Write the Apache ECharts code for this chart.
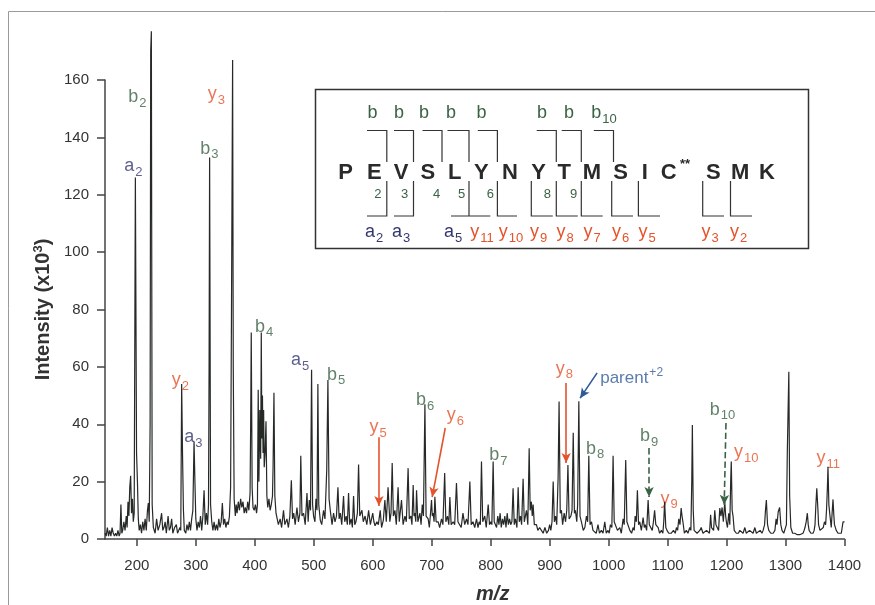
<!DOCTYPE html>
<html>
<head>
<meta charset="utf-8">
<script src="https://cdn.jsdelivr.net/npm/echarts@6/dist/echarts.min.js"></script>
<style>
html,body{margin:0;padding:0;background:#fff;}
#chart{width:875px;height:605px;}
</style>
</head>
<body>
<div id="chart"></div>
<script>
// m/z ticks and intensity ticks (x10^3)
const mzTicks = [200, 300, 400, 500, 600, 700, 800, 900, 1000, 1100, 1200, 1300, 1400];
const intensityTicks = [0, 20, 40, 60, 80, 100, 120, 140, 160];

// MS/MS profile: [m/z, intensity x10^3]
const spectrum = [
  [146,2],[148,1],[150,4],[152,1],[154,3],[156,1],[158,4],[160,2],[162,1],[164,2],[166,1],[168,3],[170,1],[171.5,2],[173,12],[174.5,2],
  [176,3],[178,6],[180,3],[182,8],[183.5,4],[185,13],[186.5,8],[188,18],[189.5,22],[191,9],[192.5,14],[194,6],[195.5,9],[197.5,126],
  [199.5,30],[201,20],[202.5,7],[204,3],[206,5],[208,2],[210,6],[212,3],[214,7],[216,3],[218,10],[219.5,12.5],[221,6],[222.5,40],
  [223.5,170],[224.6,177],[226,12],[228,4],[231,2],[233.5,7],[236,3],[239,5],[242,9],[244,3],[246,4],[248,6],[250,2],[253,8],[255,3],
  [257,4],[259,7],[261,2],[264,4],[267,5],[269,2],[271,3],[273,4],[274.5,3],[276,54],[277.5,29],[279,10],[280.5,3],[283,2],[285,5],
  [287,3],[289,6],[291,3],[293,7],[295,10],[297,34],[298.5,20],[300,7],[302,3],[304,6],[306,4],[308,8],[310,3],[312,8],[314,17],[316,5],
  [318,9],[320,5],[321.5,12],[322.5,60],[323.4,133],[325,12],[327,6],[329,3],[331,6],[333,3],[335,5],[337,3],[339,7],[341,4],[343,6],
  [345,12.5],[347,5],[349,7],[351,4],[353,6],[355,5],[357,8],[359,18],[360.5,80],[362.4,167],[363.5,60],[365,14],[367,8],[368.5,12],
  [370,9],[372,13],[374,10],[376,14],[378,11],[380,13],[382,9],[384,11],[386,9],[388,13],[390,10],[392,16],[393,40],[394,72],[395.5,18],
  [397,11],[399,10],[401,12],[403,9],[404.5,12],[405.8,52],[407,20],[408.5,45],[410,28],[411,72],[412,35],[413,50],[414,30],[415,45],
  [416,25],[417.5,30],[419,41],[420.5,15],[422,11],[424,14],[426,10],[428,12],[430,15],[431,25],[432.5,51],[434,15],[436,9],[437.6,9],
  [440,5],[443,7],[445.5,4],[448.7,10],[451,5],[454.5,7],[457,4],[459.5,8],[462,20.5],[464,7],[466,9],[468.5,5],[471.5,11],[474,6],
  [476.5,9],[478,29],[480,8],[482.7,9],[485.5,5],[488.5,16],[490.5,6],[492.4,13.6],[494.5,10],[496.3,59],[498,12],[499.7,8],[502,6],
  [503.7,14],[505.5,10],[507,54],[508.5,12],[511,6.6],[513.5,5],[516.6,10],[519,7],[522,24],[524,55.4],[526,14],[528,10],[531,5],
  [533.6,9],[536,6],[538.5,8],[541,18],[543,7],[545,9],[547.5,5],[550.5,15],[552.5,6],[555,8],[557,5],[559,16],[561,5],[563.5,7],
  [565.5,4],[567.5,15],[569.5,5],[571.5,6],[574,9],[576,26],[578,8],[581.7,10],[584,6],[587,8],[590,5],[593,10],[596,5],[600,9],[602,6],
  [604,4.6],[607,6],[609.5,5],[612.7,10],[615,4],[618,6.6],[620.6,13.6],[623,6],[626,18],[629,6],[631,9],[633,26.5],[635,8],[637.6,10],
  [640,5],[643,18],[645,6],[648.8,13.6],[651.5,5],[654.6,8],[657,6],[660,24.7],[662,7],[664.7,8],[666.5,5],[668.6,18.8],[670,8],
  [671.5,9],[673,6],[674.3,17],[676.5,6],[680,9],[682,5],[684,12],[686,8],[688.5,47],[690.5,8],[694,7],[696,4],[698,9],[699.7,13.6],
  [701,8],[702.5,9],[704,6],[705.4,14.7],[707.5,6],[711,6],[713.5,4],[716.6,7],[719,5],[722,23],[724,6],[726.8,8],[729,5],[730.8,14.6],
  [733,5],[736.4,6],[739,5],[742,19.5],[744.5,6],[747.8,6],[750,4],[753,9],[756,5],[759,7],[761.5,5],[764.7,20],[767,5],[770,6],[773,4],
  [776,7],[778.5,4],[780.5,6],[782.5,5],[784.4,27],[786.5,6],[790,8],[792.5,4],[795.8,12],[798,5],[800.3,6],[802,5],[804.2,27],[806,6],
  [808,6],[810,4],[812,8],[814,5],[816,9],[818,4],[820,7],[822,5],[824,8],[826,4],[828,9],[830,5],[832,7],[834,5],[836,6],[838,17.7],
  [840,5],[842,7],[844.5,4],[846.6,18],[848.5,6],[850.5,8],[852.5,5],[855,21],[857,6],[860.7,10],[863,5],[865.3,31.6],[867,10],[869,13],
  [870.5,8],[872,12],[874,5],[877.6,5],[880,3],[883,4],[886,3],[889,2],[892,4],[895,2],[898,3],[900,5],[902,3],[904,6],[906,20],[908,6],
  [910,8],[912,5],[914.4,21.7],[916,47.9],[918,9],[920,10],[922,5],[924.6,9],[927,6],[929,10],[931,25.8],[933,7],[936,8],[938,10],
  [940,37],[942,9],[943.7,10],[946,6],[947.5,12],[949.5,48],[951.5,8],[953.9,6],[957,3],[959.7,4],[962.4,8],[964.5,6],[966.4,29],
  [968.5,5],[971,6],[973.5,3],[976.6,3],[979,2],[982,5],[984.5,2],[987.7,3],[990.5,2],[993.5,6],[996,2],[999,3],[1001,2],[1003,5],
  [1005.5,4],[1007.6,29],[1009.5,6],[1012,6],[1015,3],[1019,4],[1021.5,2],[1024.6,7],[1026.5,5],[1029,27.5],[1031,6],[1033,6],[1036,3],
  [1039,2],[1041.5,4],[1043.5,3],[1045,8],[1047,6],[1048.8,17],[1050.8,5],[1052.8,6],[1055.5,3],[1058.5,7.5],[1060.5,4],[1062,5],
  [1064.5,3],[1067,13.6],[1069,5],[1071.5,5],[1074,3],[1076,6],[1078,10],[1080,5],[1084,4],[1086.5,2],[1089.5,3],[1092,2],[1093.5,6],
  [1095,13],[1097,4],[1099,3],[1102,2],[1106,2],[1110,3],[1113,2],[1115,4],[1117,3],[1119,7],[1121,5],[1123,10.8],[1124.5,8],[1126,6],
  [1128.5,2],[1131.8,3],[1134.5,2],[1137.6,4],[1139.5,3],[1141,20],[1142,39.7],[1143.5,10],[1145,3],[1146,3],[1150,2],[1154.6,3],
  [1157,4],[1160,2],[1163,2],[1166,3],[1168.6,3],[1171,2],[1173,8.4],[1174.5,4],[1176,4],[1178,3],[1180,10],[1182,5],[1184,5],[1186.5,3],
  [1188.5,10.8],[1190.5,8],[1192.4,11],[1194.5,6],[1197,13],[1198.5,8],[1199.7,6],[1201.5,4],[1203.7,9],[1205.5,5],[1207,20],[1208,27],
  [1209.5,10],[1211,8],[1213,3],[1216.6,2],[1220,2],[1222.5,3],[1225,3],[1228,2],[1231,4],[1233.5,2],[1236.7,2],[1239,3],[1242,3],
  [1245,2],[1248,4],[1250.5,2],[1253.7,2],[1257,3],[1260,2],[1262,3],[1264.5,5],[1266,10],[1267.5,13.6],[1269.5,5],[1271.6,3],[1275,2],
  [1279,2],[1282,3],[1284,7],[1285.5,5],[1287.6,9.5],[1290,11],[1292,5],[1294,3],[1297,2],[1300,2],[1301.5,5],[1303,30],[1305.6,58.3],
  [1307,15],[1309,4],[1312,2],[1315.6,2],[1320,1.5],[1324,1.5],[1327,2],[1329.7,2],[1331.5,3],[1333,4],[1335,6],[1337,9],[1338.5,5],
  [1340,3],[1343,2],[1346.6,2],[1348.5,3],[1350,5],[1351.5,12],[1353,17.7],[1355,10],[1356,5],[1358.5,3],[1361.5,3],[1364,4],[1366,6],
  [1368,5],[1369.5,10],[1371,18],[1372,25.2],[1373.5,12],[1375.4,8],[1377.5,4],[1379,9],[1380.5,13.8],[1382,8],[1383,5],[1386,3],
  [1389,2],[1392,2],[1394.6,2],[1396.5,2],[1397.5,6],[1400,6]
];

// fragment ion labels: [ion series, number]
const ionLabels = [
  ['a','2'],['b','2'],['b','3'],['y','3'],['y','2'],['a','3'],['b','4'],['a','5'],['b','5'],['y','5'],['b','6'],
  ['y','6'],['b','7'],['y','8'],['b','8'],['b','9'],['y','9'],['b','10'],['y','10'],['y','11']
];
// peptide sequence shown in the inset
const sequence = ['P','E','V','S','L','Y','N','Y','T','M','S','I','C','S','M','K'];

// ---- layout (label anchors in data units, inset in pixels) ----
const ionLabelAt = [
  [194,130],[201,154],[323,136],[335,155],[274,55.4],[296,35.5],[416,74],[477,62.4],[538,57.2],[609,39],[689,48.4],
  [740,43.2],[813,29.3],[925,59.3],[977,31.4],[1068.6,35.9],[1102.5,14],[1193,45],[1233.5,30.3],[1372.5,28.2]
];
const parentAt = [1039, 56];
const colors = {a:'#34376f', b:'#3a6244', y:'#e4532b', parent:'#2f5a98', line:'#262a27', axis:'#444'};

const arrows = [
  [[610.5,35.5],[610.5,11.5],colors.y,'solid'],
  [[723,38.7],[700.8,14.6],colors.y,'solid'],
  [[928,54.4],[928,26.5],colors.y,'solid'],
  [[980.5,57.9],[951.7,49.1],colors.parent,'solid'],
  [[1068.6,31.7],[1068.6,14.6],colors.b,'dashed'],
  [[1199,40.4],[1196,11.9],colors.b,'dashed']
];

const FONT = 'Liberation Sans, Arial, sans-serif';
const subRich = {
  m: {fontSize: 18},
  s: {fontSize: 13, padding: [12, 0, 0, 1]},
  p: {fontSize: 17},
  sup: {fontSize: 12, padding: [0, 0, 11, 1]}
};

let labelData = ionLabels.map(function (ion, i) {
  return {
    value: ionLabelAt[i],
    label: {formatter: '{m|' + ion[0] + '}{s|' + ion[1] + '}', color: colors[ion[0]]}
  };
});
labelData.push({value: parentAt, label: {formatter: '{p|parent}{sup|+2}', color: colors.parent}});

// inset: peptide with fragmentation brackets
const seqX = [345.7,374.3,401,427.8,454.6,481.4,510,538.5,564.2,592,620.6,644.9,668.8,713.4,740.2,767];
const topBrackets = [[367,386.8],[394,413.5],[422.5,442],[447.5,469],[477.8,497.4],[536.7,556.3],[561.7,581.3],[593.8,613.5]];
const topB = [[372.5,''],[399,''],[424,''],[451,''],[481.4,''],[542,''],[569,''],[604,'10']];
const bottomBrackets = [[386.8,367,386.8],[413.5,394,413.5],[469,451,490.3],[497.4,497.4,517],[531.3,531.3,552.8],[556.3,556.3,577.8],
  [581.3,581.3,602.7],[611.7,611.7,633],[638.4,638.4,660],[702.7,702.7,724],[730.5,730.5,752]];
const bNums = [[377.8,'2'],[404.6,'3'],[436.7,'4'],[461.7,'5'],[490.3,'6'],[547.4,'8'],[573.5,'9']];
const bottomLab = [[374,'a','2'],[401,'a','3'],[453,'a','5'],[482,'y','11'],[511,'y','10'],[538.5,'y','9'],[565,'y','8'],
  [592,'y','7'],[620.6,'y','6'],[647,'y','5'],[710,'y','3'],[738.5,'y','2']];

let graphics = [
  {type:'rect', shape:{x:8.5, y:11.5, width:900, height:700}, style:{fill:'none', stroke:'#9a9a9a', lineWidth:1}, z:-1},
  {type:'rect', shape:{x:315.5, y:89.5, width:493, height:159}, style:{fill:'#fff', stroke:'#333', lineWidth:1.5}}
];
sequence.forEach(function (s, i) {
  graphics.push({type:'text', x:seqX[i], y:173, style:{text: s, font:'bold 22px ' + FONT, fill:'#2a2a2a', align:'center', verticalAlign:'middle'}});
});
graphics.push({type:'text', x:680, y:164, style:{text:'**', font:'bold 13px ' + FONT, fill:'#2a2a2a', align:'left', verticalAlign:'middle'}});
topBrackets.forEach(function (b) {
  graphics.push({type:'polyline', shape:{points:[[b[0],130.5],[b[1],130.5],[b[1],162]]}, style:{fill:'none', stroke:'#333', lineWidth:1.2}});
});
topB.forEach(function (t) {
  graphics.push({type:'text', x:t[0], y:113, style:{text: t[1] ? '{m|b}{s|' + t[1] + '}' : '{m|b}', rich: subRich, font:'18px ' + FONT, fill:colors.b, align:'center', verticalAlign:'middle'}});
});
bottomBrackets.forEach(function (b) {
  graphics.push({type:'polyline', shape:{points:[[b[0],181],[b[0],216],[b[1],216],[b[2],216]]}, style:{fill:'none', stroke:'#333', lineWidth:1.2}});
});
bNums.forEach(function (t) {
  graphics.push({type:'text', x:t[0], y:194, style:{text: t[1], font:'13px ' + FONT, fill:colors.b, align:'center', verticalAlign:'middle'}});
});
bottomLab.forEach(function (t) {
  graphics.push({type:'text', x:t[0], y:232, style:{text: '{m|' + t[1] + '}{s|' + t[2] + '}', rich: subRich, font:'18px ' + FONT, fill:colors[t[1]], align:'center', verticalAlign:'middle'}});
});

const chart = echarts.init(document.getElementById('chart'), null, {renderer:'canvas'});
const option = {
  animation: false,
  backgroundColor: '#fff',
  textStyle: {fontFamily: FONT},
  grid: {left:105, right:30.5, top:80, bottom:66, containLabel:false, outerBoundsMode:'none'},
  xAxis: {
    type:'value', min:146, max:1400,
    name:'m/z', nameLocation:'middle', nameGap:45,
    nameTextStyle:{fontStyle:'italic', fontWeight:'bold', fontSize:20, color:'#333', padding:[0,0,0,36]},
    axisLine:{lineStyle:{color:colors.axis, width:1.5}},
    axisTick:{show:true, length:7, customValues: mzTicks, lineStyle:{color:colors.axis, width:1.5}},
    axisLabel:{customValues: mzTicks, margin:19, fontSize:15, color:'#333', formatter: function (v) { return String(v); }},
    splitLine:{show:false}
  },
  yAxis: {
    type:'value', min:intensityTicks[0], max:intensityTicks[intensityTicks.length-1], interval:20,
    name:'Intensity (x10{sup|3})', nameLocation:'middle', nameGap:50,
    nameTextStyle:{fontWeight:'bold', fontSize:20, color:'#333', rich:{sup:{fontSize:13, fontWeight:'bold', padding:[0,0,10,0]}}},
    axisLine:{show:true, lineStyle:{color:colors.axis, width:1.5}},
    axisTick:{show:true, length:8, lineStyle:{color:colors.axis, width:1.5}},
    axisLabel:{margin:16, fontSize:15, color:'#333'},
    splitLine:{show:false}
  },
  series: [
    {
      type:'line', data: spectrum, symbol:'none', clip:false,
      lineStyle:{color:colors.line, width:1.2},
      markLine:{
        silent:true, symbol:['none','arrow'], symbolSize:[7,10],
        label:{show:false},
        data: arrows.map(function (a) {
          return [{coord:a[0], lineStyle:{color:a[2], type:a[3], width:1.6}}, {coord:a[1]}];
        })
      }
    },
    {
      type:'scatter', data: labelData, symbolSize:0, clip:false, silent:true,
      label:{show:true, position:'inside', fontSize:18, rich: subRich}
    }
  ],
  graphic: graphics
};
chart.setOption(option);
</script>
</body>
</html>
